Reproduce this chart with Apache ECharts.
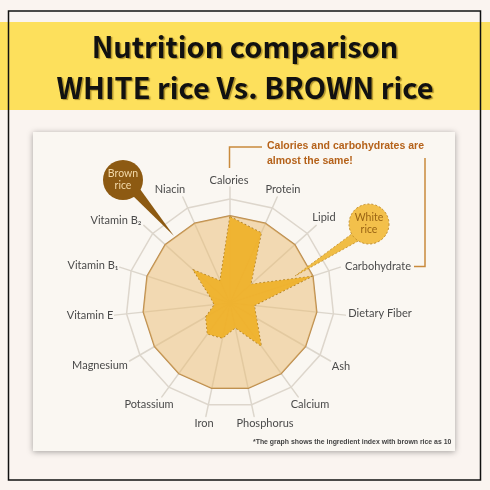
<!DOCTYPE html>
<html>
<head>
<meta charset="utf-8">
<title>Nutrition comparison</title>
<script src="https://cdn.jsdelivr.net/npm/echarts@6/dist/echarts.min.js"></script>
<style>
  html, body { margin: 0; padding: 0; background: #faf4f0; }
  #chart { width: 490px; height: 490px; }
</style>
</head>
<body>
<div id="chart"></div>
<script>
// indicators, counter-clockwise from the top (echarts radar order)
var indicatorNames = ['Calories', 'Niacin', 'Vitamin B₂', 'Vitamin B₁', 'Vitamin E', 'Magnesium',
  'Potassium', 'Iron', 'Phosphorus', 'Calcium', 'Ash', 'Dietary Fiber', 'Carbohydrate', 'Lipid', 'Protein'];
// brown rice = 100 index
var brownRice = [100, 100, 100, 100, 100, 100, 100, 100, 100, 100, 100, 100, 100, 100, 100];
var whiteRice = [99, 28, 57, 24, 18, 32, 44, 41, 29, 61, 35, 28, 99, 32, 88];

// where each indicator name sits (label centre), same order as indicatorNames
var namePos = [[229, 180], [170, 189], [116, 220], [93, 265], [90, 315], [100, 365],
  [149, 404], [204, 423], [265, 423], [310, 404], [341, 366], [380, 313], [378, 266], [324, 217], [283, 189]];

var chart = echarts.init(document.getElementById('chart'));

var nameTexts = indicatorNames.map(function (n, i) {
  return {
    type: 'text', z: 30, x: namePos[i][0], y: namePos[i][1],
    style: { text: n, fill: '#4a4a4a', font: '11px Lato', align: 'center', verticalAlign: 'middle' }
  };
});

chart.setOption({
  backgroundColor: '#faf4f0',
  animation: false,
  title: {
    text: 'Nutrition comparison\nWHITE rice Vs. BROWN rice',
    left: 'center',
    top: 21,
    textStyle: {
      fontFamily: 'Noto Sans CJK JP',
      fontWeight: 'bold',
      fontSize: 29,
      lineHeight: 41,
      color: '#111',
      textShadowColor: 'rgba(110,80,0,0.55)',
      textShadowOffsetX: 1.5,
      textShadowOffsetY: 1.5,
      textShadowBlur: 1
    }
  },
  radar: [
    {
      // outer guide ring
      center: [230, 303],
      radius: 104,
      startAngle: 90,
      splitNumber: 1,
      indicator: indicatorNames.map(function (n) { return { name: '', max: 100 }; }),
      axisName: { show: false },
      axisLine: { show: false },
      splitArea: { show: false },
      splitLine: { lineStyle: { color: '#ddd6cc', width: 1.5 } }
    },
    {
      center: [230, 303],
      radius: 116,
      startAngle: 90,
      indicator: indicatorNames.map(function (n) { return { name: n, min: 0, max: 133 }; }),
      axisName: { show: false },
      axisLine: { lineStyle: { color: '#dcd6cc', width: 1.5 } },
      splitLine: { show: false },
      splitArea: { show: false }
    }
  ],
  series: [{
    type: 'radar',
    radarIndex: 1,
    symbol: 'none',
    silent: true,
    data: [
      {
        name: 'Brown rice',
        value: brownRice,
        lineStyle: { color: '#b98a4c', width: 1.5 },
        areaStyle: { color: 'rgba(234,190,118,0.52)', opacity: 1 }
      },
      {
        name: 'White rice',
        value: whiteRice,
        lineStyle: { color: '#a97b26', width: 1.2, type: [2, 2] },
        areaStyle: { color: 'rgba(239,176,40,0.93)', opacity: 1 }
      }
    ]
  }],
  graphic: [
    { type: 'rect', z: -30, shape: { x: 0, y: 22, width: 490, height: 88 }, style: { fill: '#fde05c' } },
    {
      type: 'rect', z: -20, shape: { x: 33, y: 132, width: 422, height: 319 },
      style: { fill: '#faf7f2', shadowBlur: 6, shadowColor: 'rgba(0,0,0,0.35)', shadowOffsetY: 1 }
    },
    { type: 'rect', z: 50, shape: { x: 8.5, y: 11, width: 472, height: 469 }, style: { fill: null, stroke: '#111', lineWidth: 1.5 } },

    // brown rice callout
    { type: 'polygon', z: 40, shape: { points: [[130, 193], [140, 189], [174, 236]] }, style: { fill: '#8d5a12' } },
    { type: 'circle', z: 41, shape: { cx: 123, cy: 180, r: 20 }, style: { fill: '#8d5a12' } },
    {
      type: 'text', z: 42, x: 123, y: 180,
      style: { text: 'Brown\nrice', fill: '#f3d9a8', font: '10.5px Lato', align: 'center', verticalAlign: 'middle', lineHeight: 12 }
    },

    // white rice callout
    {
      type: 'polygon', z: 40, shape: { points: [[353, 233], [360, 240], [295, 276]] },
      style: { fill: '#f0bd45', stroke: '#c08d2c', lineWidth: 0.8, lineDash: [2, 2] }
    },
    {
      type: 'circle', z: 41, shape: { cx: 369, cy: 224, r: 20 },
      style: { fill: '#f3c04b', stroke: '#c08d2c', lineWidth: 1, lineDash: [2, 2] }
    },
    {
      type: 'text', z: 42, x: 369, y: 224,
      style: { text: 'White\nrice', fill: '#9a6414', font: '10.5px Lato', align: 'center', verticalAlign: 'middle', lineHeight: 12 }
    },

    // bracket and note
    {
      type: 'polyline', z: 40, shape: { points: [[229.5, 168], [229.5, 147], [262, 147]] },
      style: { stroke: '#c98a3c', lineWidth: 1.5, fill: null }
    },
    {
      type: 'polyline', z: 40, shape: { points: [[425, 158], [425, 266.5], [414, 266.5]] },
      style: { stroke: '#c98a3c', lineWidth: 1.5, fill: null }
    },
    {
      type: 'text', z: 42, x: 267, y: 139,
      style: { text: 'Calories and carbohydrates are\nalmost the same!', fill: '#b5621a', font: 'bold 10.5px Liberation Sans', lineHeight: 15 }
    },

    // footnote
    {
      type: 'text', z: 42, x: 253, y: 439,
      style: {
        text: '*The graph shows the ingredient index with brown rice as 100',
        fill: '#444', font: 'bold 6.9px Liberation Sans',
        width: 202, overflow: 'truncate', ellipsis: ''
      }
    }
  ].concat(nameTexts)
});
</script>
</body>
</html>
